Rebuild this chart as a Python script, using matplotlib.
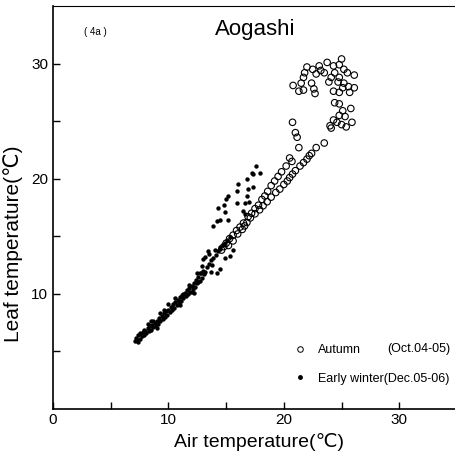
import matplotlib
matplotlib.use('Agg')
import matplotlib.pyplot as plt
from matplotlib.lines import Line2D

plt.rcParams['font.family'] = ['Liberation Sans', 'DejaVu Sans']

# Autumn (Oct.04-05): air temperature vs leaf temperature
autumn_air = [
    25.0, 23.75, 23.06, 22.0, 22.5, 23.2, 24.3, 24.8, 25.2, 24.4, 25.5, 26.1,
    21.8, 22.8, 23.5, 21.7, 24.1, 24.8, 21.5, 20.8, 22.4, 23.9, 25.2, 25.6,
    26.1, 21.7, 21.3, 22.6, 22.7, 24.3, 24.8, 25.7, 25.1, 24.7,
    24.4, 24.8, 25.8, 25.1, 24.8, 25.3, 24.3, 25.9, 24.6, 24.0, 25.0, 25.4, 24.1,
    20.75, 21.0, 21.15, 21.3, 22.8, 23.5,
    22.4, 22.2, 22.0, 21.7, 21.4, 21.0, 20.75, 20.5, 20.3, 20.0, 19.65, 19.3,
    18.9, 18.55, 18.2, 17.9, 17.5, 17.1, 16.8,
    20.5, 20.7, 20.2, 19.8, 19.5, 19.2, 18.9, 18.6, 18.35, 18.1, 17.8, 17.5,
    17.2, 16.9, 16.5,
    16.4, 16.2, 16.0, 15.9, 15.6, 15.6, 15.3, 15.2, 15.0, 14.8, 14.6, 16.6,
]
autumn_leaf = [
    30.4, 30.1, 29.8, 29.7, 29.5, 29.4, 29.8, 29.9, 29.5, 29.2, 29.2, 29.0,
    29.2, 29.1, 29.2, 28.8, 28.8, 28.8, 28.3, 28.1, 28.3, 28.4, 28.3, 28.0,
    27.9, 27.7, 27.6, 27.8, 27.4, 27.6, 27.5, 27.5, 27.9, 28.4,
    26.6, 26.5, 26.1, 25.9, 25.5, 25.4, 25.1, 24.9, 24.9, 24.6, 24.7, 24.5, 24.4,
    24.9, 24.0, 23.6, 22.7, 22.7, 23.1,
    22.2, 22.0, 21.7, 21.4, 21.1, 20.7, 20.4, 20.1, 19.8, 19.5, 19.1, 18.8,
    18.4, 18.0, 17.65, 17.3, 16.95, 16.6, 16.2,
    21.8, 21.5, 21.1, 20.6, 20.2, 19.8, 19.4, 18.9, 18.5, 18.2, 17.7, 17.4,
    17.0, 16.7, 16.15,
    15.6, 15.8, 15.2, 15.5, 15.1, 14.6, 14.8, 14.2, 14.4, 14.1, 13.8, 15.9,
]

# Early winter (Dec.05-06)
winter_air = [
    7.1, 7.2, 7.3, 7.4, 7.5, 7.6, 7.7, 7.8, 7.9, 8.0, 8.1, 8.2, 8.3, 8.4, 8.5,
    8.6, 8.7, 8.8, 8.9, 9.0, 9.1, 9.2, 9.3, 9.4, 9.5, 9.6, 9.7, 9.8, 9.9, 10.0,
    10.1, 10.2, 10.3, 10.4, 10.5, 10.6, 10.7, 10.8, 10.9, 11.0, 11.1, 11.2,
    11.3, 11.4, 11.5, 11.6, 11.7, 11.8, 11.9, 12.0, 12.1, 12.2, 12.3, 12.4,
    12.5, 12.6, 12.7, 12.8, 12.9, 13.0, 13.1, 13.3, 13.5, 13.7, 13.9, 14.1,
    14.3, 14.5, 14.7, 14.9, 15.1, 15.3,
    8.5, 9.0, 10.0, 11.0, 12.5, 11.8, 12.2, 7.5, 8.2, 9.6, 10.6,
    7.35, 7.9, 8.7, 9.3, 10.3, 11.3, 12.0, 12.6, 13.2, 13.8,
    17.6, 17.3, 16.8, 16.0, 15.95, 16.9, 16.8, 17.0, 16.6, 15.2, 15.0, 15.95,
    14.8, 14.3, 16.5, 16.6, 14.9, 15.2, 14.5, 13.9, 14.2, 17.9, 17.2, 17.3,
    14.5, 14.0, 13.5, 13.2, 15.3, 14.9, 15.6, 13.45, 13.0, 12.9, 12.7, 13.7,
    14.2, 14.5,
]
winter_leaf = [
    5.9, 6.2, 6.0, 6.4, 6.1, 6.5, 6.3, 6.7, 6.4, 6.8, 6.6, 7.0, 6.8, 7.2, 6.9,
    7.3, 7.1, 7.5, 7.2, 7.6, 7.4, 7.9, 7.6, 8.1, 7.8, 8.3, 8.0, 8.5, 8.2, 8.6,
    8.4, 8.9, 8.6, 9.1, 8.8, 9.3, 9.0, 9.5, 9.2, 9.7, 9.4, 9.9,
    9.6, 10.1, 9.8, 10.3, 10.0, 10.5, 10.2, 10.7, 10.4, 10.9, 10.6, 11.2,
    10.9, 11.5, 11.1, 11.8, 11.4, 12.0, 11.7, 12.3, 12.6, 12.9, 13.1, 13.4,
    13.7, 13.9, 14.2, 14.4, 14.7, 14.9,
    7.6, 7.0, 9.1, 9.0, 11.8, 10.8, 10.1, 6.6, 7.4, 8.6, 9.6,
    5.8, 6.9, 7.6, 8.3, 8.9, 10.0, 10.2, 11.0, 11.9, 12.5,
    21.1, 20.4, 20.0, 19.5, 18.9, 19.1, 18.5, 18.0, 17.9, 18.5, 18.2, 17.9,
    17.7, 17.45, 17.2, 16.9, 17.1, 16.4, 16.4, 15.9, 16.3, 20.5, 20.5, 19.3,
    14.1, 13.8, 13.5, 13.2, 13.3, 13.1, 13.8, 13.7, 13.0, 12.4, 11.8, 11.9,
    11.8, 12.2,
]

x_major = [0, 10, 20, 30]
y_major = [10, 20, 30]
minor = [5, 15, 25]

fig = plt.figure(figsize=(4.55, 4.61), dpi=100)
ax = fig.add_axes([53/455, 52/461, 404/455, 403/461])

ax.scatter(winter_air, winter_leaf, s=10, c='black', linewidths=0, zorder=3)
ax.scatter(autumn_air, autumn_leaf, s=22, facecolors='none', edgecolors='black',
           linewidths=0.8, zorder=2)

ax.set_xlim(0, 35)
ax.set_ylim(0, 35)
ax.set_xticks(x_major)
ax.set_yticks(y_major)
ax.set_xticks(minor, minor=True)
ax.set_yticks(minor, minor=True)
ax.tick_params(which='both', direction='in', length=5, width=1, labelsize=11,
               top=False, right=False)
ax.tick_params(axis='x', pad=3)
ax.spines['right'].set_visible(False)
for s in ['left', 'bottom']:
    ax.spines[s].set_linewidth(1.2)
ax.spines['top'].set_linewidth(0.8)

ax.set_xlabel('Air temperature(℃)', fontsize=14)
ax.xaxis.set_label_coords(0.51, -0.06)
ax.set_ylabel('Leaf temperature(℃)', fontsize=15)
ax.yaxis.set_label_coords(-0.075, 0.41)

ax.text(17.5, 33.0, 'Aogashi', fontsize=16, ha='center', va='center')
ax.text(3.7, 32.7, '( 4a )', fontsize=7, ha='center', va='center')

handles = [
    Line2D([], [], ls='none', marker='o', ms=4, mfc='none', mec='black', mew=0.7),
    Line2D([], [], ls='none', marker='o', ms=2.5, mfc='black', mec='black'),
]
ax.legend(handles, ['Autumn', 'Early winter(Dec.05-06)'], loc='lower right',
          bbox_to_anchor=(1.01, 0.032), frameon=False, fontsize=9,
          handletextpad=0.9, labelspacing=1.35, handlelength=1.2)
ax.text(34.4, 5.2, '(Oct.04-05)', fontsize=9, ha='right', va='center')

plt.savefig('out.png', dpi=100)
